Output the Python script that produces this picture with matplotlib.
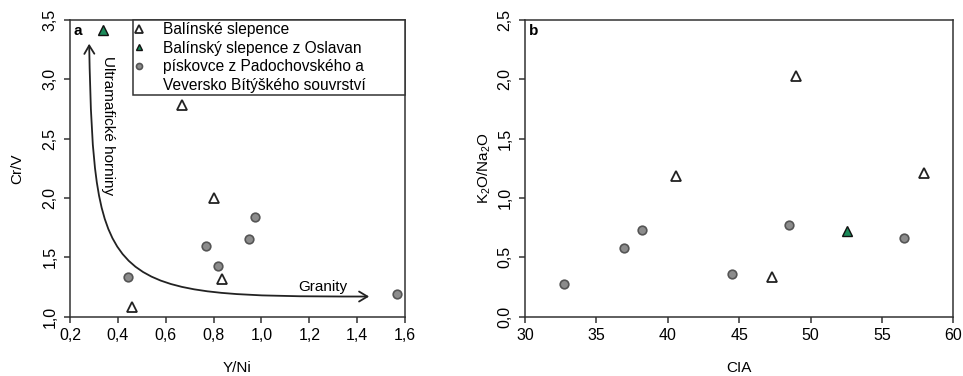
import matplotlib
matplotlib.use("Agg")
import matplotlib.pyplot as plt
from matplotlib.path import Path
from matplotlib.patches import FancyArrowPatch
from matplotlib.lines import Line2D

plt.rcParams['font.family'] = ['Liberation Sans', 'DejaVu Sans']
plt.rcParams['mathtext.default'] = 'regular'

# ---------------- data ----------------
# Panel a: Y/Ni vs Cr/V
a_bal_x = [0.666, 0.802, 0.836, 0.460]
a_bal_y = [2.78, 2.00, 1.32, 1.08]
a_osl_x = [0.337]
a_osl_y = [3.415]
a_pis_x = [0.443, 0.767, 0.819, 0.950, 0.972, 1.565]
a_pis_y = [1.332, 1.598, 1.430, 1.652, 1.842, 1.194]

# Panel b: CIA vs K2O/Na2O
b_bal_x = [48.98, 40.57, 57.96, 47.30]
b_bal_y = [2.028, 1.188, 1.213, 0.332]
b_osl_x = [52.55]
b_osl_y = [0.722]
b_pis_x = [32.73, 36.91, 38.19, 44.47, 48.46, 56.54]
b_pis_y = [0.278, 0.581, 0.733, 0.357, 0.773, 0.666]

a_xticks = [0.2, 0.4, 0.6, 0.8, 1.0, 1.2, 1.4, 1.6]
a_xticklabels = ['0,2', '0,4', '0,6', '0,8', '1,0', '1,2', '1,4', '1,6']
a_yticks = [1.0, 1.5, 2.0, 2.5, 3.0, 3.5]
a_yticklabels = ['1,0', '1,5', '2,0', '2,5', '3,0', '3,5']
b_xticks = [30, 35, 40, 45, 50, 55, 60]
b_xticklabels = ['30', '35', '40', '45', '50', '55', '60']
b_yticks = [0.0, 0.5, 1.0, 1.5, 2.0, 2.5]
b_yticklabels = ['0,0', '0,5', '1,0', '1,5', '2,0', '2,5']

labels = ['Balínské slepence', 'Balínský slepence z Oslavan',
          'pískovce z Padochovského a', 'Veversko Bítýškého souvrství']

# ---------------- styles ----------------
GREEN = '#1b8a5a'
tri_open = dict(marker='^', ms=7.5, mfc='white', mec='#222222', mew=1.3, ls='none')
tri_green = dict(marker='^', ms=7.0, mfc=GREEN, mec='#111111', mew=1.0, ls='none')
circ = dict(marker='o', ms=6.2, mfc='#8c8c8c', mec='#555555', mew=1.2, ls='none')

FS_TICK = 11.5
FS_LAB = 11
FS_LEG = 11.2
FS_TXT = 11

fig = plt.figure(figsize=(9.63, 3.76), dpi=100)
ax1 = fig.add_axes([0.0727, 0.1577, 0.3479, 0.7891])
ax2 = fig.add_axes([0.5452, 0.1577, 0.4447, 0.7891])


def style_axes(ax, xt, xtl, yt, ytl):
    for s in ax.spines.values():
        s.set_linewidth(1.1)
        s.set_color('#333333')
    ax.set_xticks(xt)
    ax.set_xticklabels(xtl, fontsize=FS_TICK)
    ax.set_yticks(yt)
    ax.set_yticklabels(ytl, fontsize=FS_TICK, rotation=90, va='center')
    ax.tick_params(direction='out', length=4, width=1.1, color='#333333', pad=4)
    ax.tick_params(axis='y', pad=5)


# Panel a
ax1.plot(a_bal_x, a_bal_y, **tri_open)
ax1.plot(a_osl_x, a_osl_y, **tri_green)
ax1.plot(a_pis_x, a_pis_y, **circ)
ax1.set_xlim(0.2, 1.6)
ax1.set_ylim(1.0, 3.5)
style_axes(ax1, a_xticks, a_xticklabels, a_yticks, a_yticklabels)
ax1.set_xlabel('Y/Ni', fontsize=FS_LAB, labelpad=13)
ax1.set_ylabel('Cr/V', fontsize=FS_LAB, labelpad=13)
ax1.text(0.01, 0.985, 'a', transform=ax1.transAxes, ha='left', va='top',
         fontsize=FS_TXT, fontweight='bold')

curve = Path([(0.28, 3.30), (0.30, 1.20), (0.35, 1.17), (1.45, 1.17)],
             [Path.MOVETO, Path.CURVE4, Path.CURVE4, Path.CURVE4])
arr = FancyArrowPatch(path=curve, arrowstyle='<->,head_length=0.5,head_width=0.3',
                      mutation_scale=12, lw=1.3, color='#222222',
                      transform=ax1.transData)
ax1.add_patch(arr)
ax1.text(0.359, 2.614, 'Ultramafické horniny', rotation=270, ha='center',
         va='center', fontsize=FS_TXT)
ax1.text(1.256, 1.25, 'Granity', ha='center', va='center', fontsize=FS_TXT)

handles = [Line2D([], [], **tri_open), Line2D([], [], **tri_green),
           Line2D([], [], **circ), Line2D([], [], ls='none', marker='none')]
leg = ax1.legend(handles, labels, loc='upper left', bbox_to_anchor=(0.187, 0, 0.813, 1.0),
                 mode='expand', borderaxespad=0, fancybox=False, fontsize=FS_LEG,
                 handlelength=0.5, handletextpad=1.3, borderpad=0.15,
                 labelspacing=0.22, markerscale=0.7, framealpha=1)
leg.get_frame().set_edgecolor('#333333')
leg.get_frame().set_linewidth(1.1)

# Panel b
ax2.plot(b_bal_x, b_bal_y, **tri_open)
ax2.plot(b_osl_x, b_osl_y, **tri_green)
ax2.plot(b_pis_x, b_pis_y, **circ)
ax2.set_xlim(30, 60)
ax2.set_ylim(0.0, 2.5)
style_axes(ax2, b_xticks, b_xticklabels, b_yticks, b_yticklabels)
ax2.set_xlabel('CIA', fontsize=FS_LAB, labelpad=13)
ax2.set_ylabel('K$_2$O/Na$_2$O', fontsize=FS_LAB, labelpad=3)
ax2.text(0.01, 0.985, 'b', transform=ax2.transAxes, ha='left', va='top',
         fontsize=FS_TXT, fontweight='bold')

fig.savefig('out.png', dpi=100)
